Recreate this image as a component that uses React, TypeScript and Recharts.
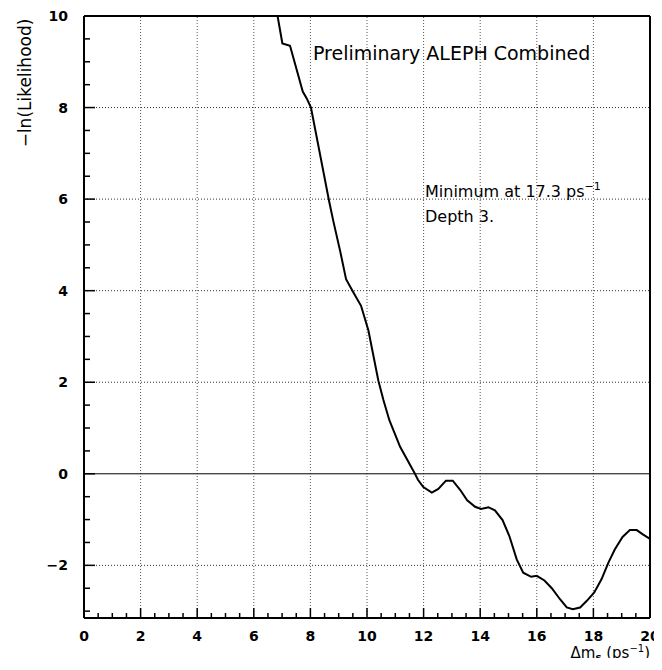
import React from "react";
import { LineChart, Line, XAxis, YAxis, ReferenceLine } from "recharts";

// Δm_s (ps^-1)
const DM = [
  6.84, 7.01, 7.28, 7.73, 7.87, 8.02, 8.66, 8.81, 9.05, 9.26, 9.52, 9.79, 10.05,
  10.4, 10.58, 10.79, 11.17, 11.67, 11.8, 11.99, 12.29, 12.52, 12.79, 13.03,
  13.29, 13.54, 13.82, 14.03, 14.29, 14.52, 14.79, 15.03, 15.29, 15.52, 15.8,
  16.0, 16.27, 16.53, 16.82, 17.06, 17.27, 17.53, 17.76, 18.03, 18.29, 18.53,
  18.76, 19.03, 19.29, 19.53, 19.76, 20.0,
];
// -ln(Likelihood)
const NLL = [
  10.0, 9.4, 9.35, 8.35, 8.2, 8.0, 5.96, 5.52, 4.87, 4.25, 3.96, 3.67, 3.13,
  2.04, 1.61, 1.17, 0.59, 0.03, -0.13, -0.29, -0.41, -0.33, -0.15, -0.15,
  -0.35, -0.58, -0.72, -0.77, -0.73, -0.8, -1.01, -1.36, -1.87, -2.16, -2.25,
  -2.23, -2.33, -2.5, -2.74, -2.92, -2.96, -2.92, -2.78, -2.59, -2.3, -1.94,
  -1.65, -1.38, -1.23, -1.23, -1.33, -1.42,
];

const X_MAJOR = [0, 2, 4, 6, 8, 10, 12, 14, 16, 18, 20];
const X_TICKS = [
  0, 0.5, 1, 1.5, 2, 2.5, 3, 3.5, 4, 4.5, 5, 5.5, 6, 6.5, 7, 7.5, 8, 8.5, 9,
  9.5, 10, 10.5, 11, 11.5, 12, 12.5, 13, 13.5, 14, 14.5, 15, 15.5, 16, 16.5,
  17, 17.5, 18, 18.5, 19, 19.5, 20,
];
const Y_MAJOR = [-2, 0, 2, 4, 6, 8, 10];
const Y_TICKS = [
  -3, -2.5, -2, -1.5, -1, -0.5, 0, 0.5, 1, 1.5, 2, 2.5, 3, 3.5, 4, 4.5, 5,
  5.5, 6, 6.5, 7, 7.5, 8, 8.5, 9, 9.5, 10,
];

const data = DM.map((x, i) => ({ x, y: NLL[i] }));

// no scrollbars on the page
if (typeof document !== "undefined") {
  document.documentElement.style.overflow = "hidden";
  document.body.style.overflow = "hidden";
}

const tickFont = {
  fontFamily: "DejaVu Sans",
  fontWeight: 700,
  fontSize: 14,
  fill: "#000",
};

function XTick(props: any) {
  const { x, y, payload } = props;
  const major = X_MAJOR.includes(payload.value);
  return (
    <g>
      <line x1={x} x2={x} y1={y} y2={y - (major ? 10 : 5)} stroke="#000" strokeWidth={1.5} />
      {major && (
        <text x={x} y={y + 23} textAnchor="middle" {...tickFont}>
          {payload.value}
        </text>
      )}
    </g>
  );
}

function YTick(props: any) {
  const { x, y, payload } = props;
  const major = Y_MAJOR.includes(payload.value);
  const label = payload.value < 0 ? "\u2212" + Math.abs(payload.value) : String(payload.value);
  return (
    <g>
      <line x1={x} x2={x + (major ? 11 : 6)} y1={y} y2={y} stroke="#000" strokeWidth={1.5} />
      {major && (
        <text x={x - 16} y={y + 5} textAnchor="end" {...tickFont}>
          {label}
        </text>
      )}
    </g>
  );
}

const textFont = { fontFamily: "DejaVu Sans", fill: "#000" };

export default function App() {
  return (
    <div style={{ position: "relative", width: 654, height: 650 }}>
      <LineChart
        width={654}
        height={654}
        data={data}
        margin={{ top: 8, right: 12, left: 0, bottom: 4 }}
        style={{ display: "block" }}
      >
        <XAxis
          dataKey="x"
          type="number"
          domain={[0, 20]}
          ticks={X_TICKS}
          interval={0}
          height={40}
          tickSize={0}
          tickMargin={0}
          tickLine={false}
          tick={<XTick />}
          axisLine={{ stroke: "#000", strokeWidth: 2 }}
        />
        <YAxis
          type="number"
          domain={[-3.15, 10]}
          allowDataOverflow
          ticks={Y_TICKS}
          interval={0}
          width={76}
          tickSize={0}
          tickMargin={0}
          tickLine={false}
          tick={<YTick />}
          axisLine={{ stroke: "#000", strokeWidth: 2 }}
        />
        {X_MAJOR.filter((v) => v > 0 && v < 20).map((v) => (
          <ReferenceLine key={"vx" + v} x={v} stroke="#555" strokeDasharray="1 2" />
        ))}
        {Y_MAJOR.filter((v) => v !== 0 && v < 10).map((v) => (
          <ReferenceLine key={"hy" + v} y={v} stroke="#333" strokeDasharray="1 2" />
        ))}
        <ReferenceLine y={0} stroke="#000" strokeWidth={1} />
        <ReferenceLine y={10} stroke="#000" strokeWidth={2} />
        <ReferenceLine x={20} stroke="#000" strokeWidth={2} />
        <Line
          dataKey="y"
          type="linear"
          stroke="#000"
          strokeWidth={2}
          dot={false}
          isAnimationActive={false}
        />
      </LineChart>
      <svg
        width={654}
        height={654}
        style={{ position: "absolute", left: 0, top: 0, pointerEvents: "none", overflow: "visible" }}
      >
        <text x={305} y={52} fontSize={19} {...textFont}>
          Preliminary ALEPH Combined
        </text>
        <text x={417} y={189} fontSize={16} {...textFont}>
          Minimum at 17.3 ps
          <tspan dy={-7} fontSize={11}>
            −1
          </tspan>
        </text>
        <text x={417} y={214} fontSize={16} {...textFont}>
          Depth 3.
        </text>
        <text
          transform="translate(23,75) rotate(-90)"
          textAnchor="middle"
          fontSize={17}
          {...textFont}
        >
          −ln(Likelihood)
        </text>
        <text x={642} y={650} textAnchor="end" fontSize={15} {...textFont}>
          Δm
          <tspan dy={3} fontSize={10} fontWeight={700}>
            s
          </tspan>
          <tspan dy={-3}> (ps</tspan>
          <tspan dy={-6} fontSize={10}>
            −1
          </tspan>
          <tspan dy={6}>)</tspan>
        </text>
      </svg>
    </div>
  );
}
